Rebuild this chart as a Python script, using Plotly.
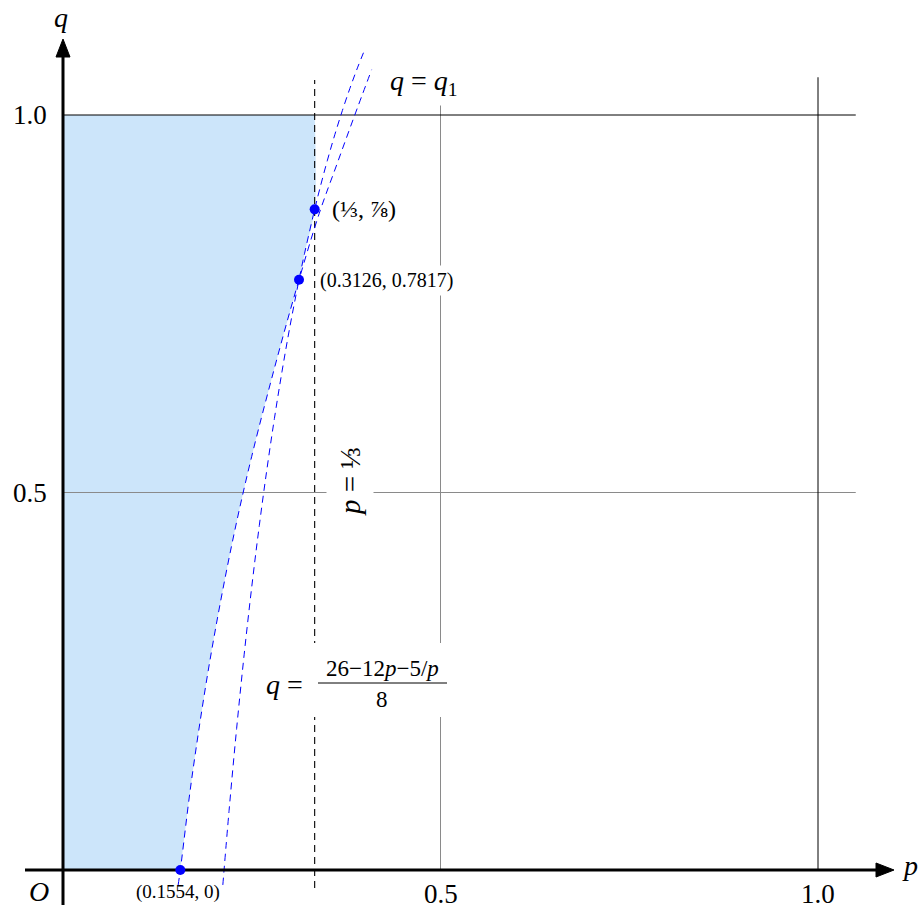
import plotly.graph_objects as go

# ---------------- data ----------------
# curve q = q1
q1_p = [0.1525, 0.1554, 0.1704, 0.1947, 0.2234, 0.2500, 0.2874, 0.3126, 0.3395, 0.3625, 0.3850, 0.4088]
q1_q = [-0.020, 0.0000, 0.1200, 0.2780, 0.4300, 0.5480, 0.6920, 0.7817, 0.8700, 0.9340, 0.9960, 1.0600]

# curve q = (26 - 12p - 5/p)/8
f_p = [0.2117, 0.22, 0.23, 0.24, 0.25, 0.26, 0.27, 0.28, 0.29, 0.30, 0.3126, 0.32,
       1/3, 0.34, 0.35, 0.36, 0.37, 0.38, 0.39, 0.40]
f_q = [-0.0198, 0.0791, 0.1876, 0.2858, 0.375, 0.4562, 0.5302, 0.5979, 0.6598, 0.7167,
       0.7817, 0.8169, 0.875, 0.9018, 0.9393, 0.9739, 1.0058, 1.0353, 1.0624, 1.0875]

# marked points
pts_p = [0.1554, 0.3126, 1/3]
pts_q = [0.0, 0.7817, 0.875]

# ticks
ticks = [0.5, 1.0]
tick_labels = ["0.5", "1.0"]
p_line = 1/3
grid_end = 1.05

# ---------------- helpers: pixel -> data ----------------
def X(px):
    return (px - 63) / 755.0

def Y(py):
    return (870 - py) / 755.0

FONT = "Liberation Serif"
BLUE = "#0000ff"
FILL = "#cce5fa"

fig = go.Figure()

# filled region, boundary q1 up to the intersection, then formula curve, then p = 1/3
k = q1_p.index(0.3126)
j = f_p.index(0.3126)
b_p = q1_p[1:k + 1] + f_p[j + 1:j + 3] + [p_line]
b_q = q1_q[1:k + 1] + f_q[j + 1:j + 3] + [1.0]
fig.add_trace(go.Scatter(x=b_p, y=b_q, mode="lines", fill="tozerox", fillcolor=FILL,
                         line=dict(width=0, shape="spline", smoothing=0.8), hoverinfo="skip"))

# grid lines
gcol = {0.5: "#8a8a8a", 1.0: "#000000"}
for t in ticks:
    fig.add_trace(go.Scatter(x=[0, grid_end], y=[t, t], mode="lines",
                             line=dict(color=gcol[t], width=1), hoverinfo="skip"))
    fig.add_trace(go.Scatter(x=[t, t], y=[0, grid_end], mode="lines",
                             line=dict(color=gcol[t], width=1), hoverinfo="skip"))

# dashed line p = 1/3
fig.add_trace(go.Scatter(x=[p_line, p_line], y=[Y(888), Y(80)], mode="lines",
                         line=dict(color="#000000", width=1.1, dash="7px,5px"), hoverinfo="skip"))

# blue dashed curves
fig.add_trace(go.Scatter(x=q1_p, y=q1_q, mode="lines",
                         line=dict(color=BLUE, width=1, dash="7px,5px", shape="spline"), hoverinfo="skip"))
fig.add_trace(go.Scatter(x=f_p, y=f_q, mode="lines",
                         line=dict(color=BLUE, width=1, dash="7px,5px", shape="spline"), hoverinfo="skip"))

# axes
fig.add_trace(go.Scatter(x=[X(25), X(880)], y=[0, 0], mode="lines",
                         line=dict(color="black", width=3), hoverinfo="skip"))
fig.add_trace(go.Scatter(x=[0, 0], y=[Y(905), Y(52)], mode="lines",
                         line=dict(color="black", width=3), hoverinfo="skip"))
fig.add_trace(go.Scatter(x=[X(876), X(894), X(876), X(876)], y=[Y(863), 0, Y(877), Y(863)],
                         mode="lines", fill="toself", fillcolor="black",
                         line=dict(color="black", width=1), hoverinfo="skip"))
fig.add_trace(go.Scatter(x=[X(56), 0, X(70), X(56)], y=[Y(57), Y(39), Y(57), Y(57)],
                         mode="lines", fill="toself", fillcolor="black",
                         line=dict(color="black", width=1), hoverinfo="skip"))

# points
fig.add_trace(go.Scatter(x=pts_p, y=pts_q, mode="markers",
                         marker=dict(color=BLUE, size=10), hoverinfo="skip"))

shapes = []
# white box behind the formula label
shapes.append(dict(type="rect", xref="x", yref="y", x0=X(257), x1=X(452), y0=Y(717), y1=Y(643),
                   fillcolor="white", line=dict(width=0), layer="above"))
# fraction bar
shapes.append(dict(type="line", xref="x", yref="y", x0=X(318), x1=X(447), y0=Y(683), y1=Y(683),
                   line=dict(color="black", width=1), layer="above"))

ann = []
def A(x, y, text, size, **kw):
    d = dict(x=x, y=y, xref="x", yref="y", text=text, showarrow=False,
             font=dict(family=FONT, size=size, color="black"),
             xanchor="center", yanchor="middle")
    d.update(kw)
    ann.append(d)

# axis labels
A(X(61), Y(17), "<i>q</i>", 28)
A(X(910), Y(865), "<i>p</i>", 28)
A(X(39), Y(891), "<i>O</i>", 28)
for t, lab in zip(ticks, tick_labels):
    A(t, Y(894), lab, 27)
    A(X(30), t, lab, 27)

# curve labels
A(X(424), Y(82), "<i>q</i> = <i>q</i><sub>1</sub>", 28, bgcolor="white", borderpad=5)
A(X(364), Y(209), "(⅓, ⅞)", 24)
A(X(386), Y(280), "(0.3126, 0.7817)", 20, bgcolor="white", borderpad=3)
A(X(178), Y(892), "(0.1554, 0)", 19)
A(X(350), Y(482), "<i>p</i> = ⅓", 29, textangle=-90, bgcolor="white", borderpad=7)
A(X(284), Y(684), "<i>q</i> =", 28)
A(X(382), Y(668), "26−12<i>p</i>−5/<i>p</i>", 23)
A(X(382), Y(699), "8", 23)

fig.update_layout(
    width=922, height=911,
    margin=dict(l=0, r=0, t=0, b=0),
    paper_bgcolor="white", plot_bgcolor="white",
    showlegend=False,
    xaxis=dict(range=[X(0), X(922)], visible=False, fixedrange=True),
    yaxis=dict(range=[Y(911), Y(0)], visible=False, fixedrange=True),
    shapes=shapes, annotations=ann,
)

fig.write_html("out.html")
